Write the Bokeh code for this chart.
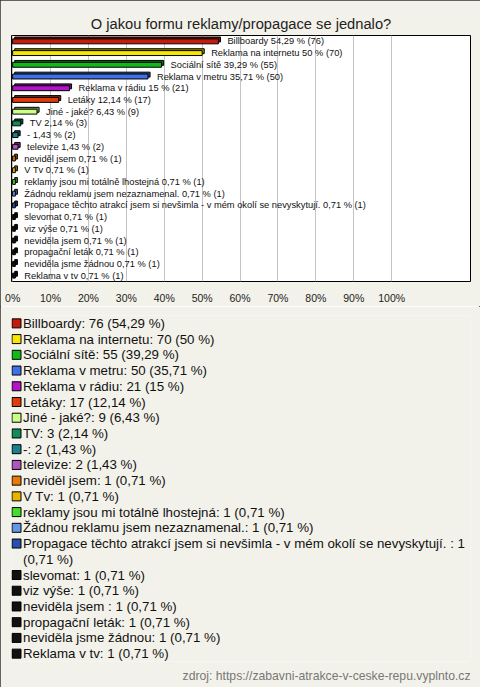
from bokeh.plotting import figure
from bokeh.layouts import column
from bokeh.models import (ColumnDataSource, Title, FactorRange, Range1d, FixedTicker)
from bokeh.transform import dodge
from bokeh.core.properties import value
from bokeh.embed import file_html
from bokeh.resources import INLINE

title_text = "O jakou formu reklamy/propagace se jednalo?"
source_text = "zdroj: https://zabavni-atrakce-v-ceske-repu.vyplnto.cz"

categories = ["Billboardy", "Reklama na internetu", "Sociální sítě", "Reklama v metru",
              "Reklama v rádiu", "Letáky", "Jiné - jaké?", "TV", "-", "televize",
              "neviděl jsem", "V Tv", "reklamy jsou mi totálně lhostejná",
              "Žádnou reklamu jsem nezaznamenal.",
              "Propagace těchto atrakcí jsem si nevšimla - v mém okolí se nevyskytují. ",
              "slevomat", "viz výše", "neviděla jsem ", "propagační leták",
              "neviděla jsme žádnou", "Reklama v tv"]
counts = [76, 70, 55, 50, 21, 17, 9, 3, 2, 2, 1, 1, 1, 1, 1, 1, 1, 1, 1, 1, 1]
percents = [54.29, 50, 39.29, 35.71, 15, 12.14, 6.43, 2.14, 1.43, 1.43, 0.71, 0.71, 0.71,
            0.71, 0.71, 0.71, 0.71, 0.71, 0.71, 0.71, 0.71]
colors = ["#c41c0c", "#f7e600", "#12b81a", "#4070e8", "#b414c8", "#de3c0c", "#ccff88",
          "#0f8c5a", "#1b7f91", "#b055c0", "#e87a0a", "#e8b400", "#44dd2e", "#6495e6",
          "#2a4eae", "#111111", "#111111", "#111111", "#111111", "#111111", "#111111"]
x_ticks = [0, 10, 20, 30, 40, 50, 60, 70, 80, 90, 100]
wrapped_item = 14   # the legend entry that wraps onto a second line

FONT = "Liberation Sans"
BG = "#f3f2ea"


def fmt(v):
    s = f"{v:.2f}".rstrip("0").rstrip(".")
    return s.replace(".", ",")


def darker(c, f=0.6):
    r, g, b = int(c[1:3], 16), int(c[3:5], 16), int(c[5:7], 16)
    return "#%02x%02x%02x" % (int(r * f), int(g * f), int(b * f))


bar_labels = [f"{c} {fmt(p)} % ({n})" for c, p, n in zip(categories, percents, counts)]

src = ColumnDataSource(dict(cat=categories, val=percents, color=colors,
                            dark=[darker(c) for c in colors], lbl=bar_labels))

# ---------------- chart ----------------
p = figure(width=480, height=306, output_backend="svg", toolbar_location=None,
           y_range=FactorRange(factors=categories[::-1], range_padding=0),
           x_range=Range1d(-0.3, 120.8), y_axis_location=None,
           min_border_left=11, min_border_right=10, min_border_top=35, min_border_bottom=18)

p.background_fill_color = "white"
p.border_fill_color = BG
p.outline_line_color = "black"
p.outline_line_width = 1

p.title.text = title_text
p.title.align = "center"
p.title.text_font = FONT
p.title.text_font_size = "14.7px"
p.title.text_font_style = "normal"
p.title.text_color = "#222222"
p.title.standoff = 8

p.ygrid.visible = False
p.xgrid.ticker = FixedTicker(ticks=x_ticks)
p.xgrid.grid_line_color = "#c4c4c4"
p.xaxis.ticker = FixedTicker(ticks=x_ticks)
p.xaxis.major_label_overrides = {t: f"{t}%" for t in x_ticks}
p.xaxis.axis_line_color = None
p.xaxis.major_tick_line_color = None
p.xaxis.minor_tick_line_color = None
p.xaxis.major_label_standoff = 4
p.xaxis.major_label_text_font = FONT
p.xaxis.major_label_text_font_size = "10.5px"
p.xaxis.major_label_text_color = "#222222"

# 3D depth face
p.hbar(y=dodge("cat", 0.16, range=p.y_range), left=0.55, right=dodge("val", 0.55),
       height=0.42, source=src, fill_color="dark", line_color="black", line_width=1)
p.hbar(y="cat", left=0, right="val", height=0.42, source=src,
       fill_color="color", line_color="black", line_width=1)

p.text(x="val", y="cat", text="lbl", source=src, x_offset=9, y_offset=0,
       text_baseline="middle", text_font=value(FONT), text_font_size="9.3px",
       text_color="#111111")

# ---------------- legend panel ----------------
key_rows, key_text = [], []
for i, (c, pct, n) in enumerate(zip(categories, percents, counts)):
    if i == wrapped_item:
        key_rows += [c, c + "#2"]
        key_text += [f"{c}: {n}", f"({fmt(pct)} %)"]
    else:
        key_rows.append(c)
        key_text.append(f"{c}: {n} ({fmt(pct)} %)")

# frame spans page pixels 11..470, so x data units equal page pixels
p2 = figure(width=480, height=381, output_backend="svg", toolbar_location=None,
            y_range=FactorRange(factors=key_rows[::-1], range_padding=0),
            x_range=Range1d(11, 470), x_axis_location=None, y_axis_location=None,
            min_border_left=11, min_border_right=10, min_border_top=9, min_border_bottom=24)
p2.background_fill_color = BG
p2.border_fill_color = BG
p2.outline_line_color = None
p2.xgrid.visible = False
p2.ygrid.visible = False

key_src = ColumnDataSource(dict(cat=categories, color=colors))
text_src = ColumnDataSource(dict(row=key_rows, txt=key_text))

p2.rect(x=16, y="cat", width=9, height=9, width_units="screen", height_units="screen",
        source=key_src, fill_color="color", line_color="black", line_width=1)
p2.text(x=22.5, y="row", text="txt", source=text_src, text_baseline="middle",
        text_font=value(FONT), text_font_size="13.3px", text_color="#111111")

src_title = Title(text=source_text, align="right", text_font=FONT, text_font_size="12.2px",
                  text_font_style="normal", text_color="#777777")
p2.add_layout(src_title, "below")

layout = column(p, p2, spacing=0)
layout.styles = {"outline": "1px solid #333333", "outline-offset": "-1px"}

open("out.html", "w").write(file_html(layout, INLINE))
